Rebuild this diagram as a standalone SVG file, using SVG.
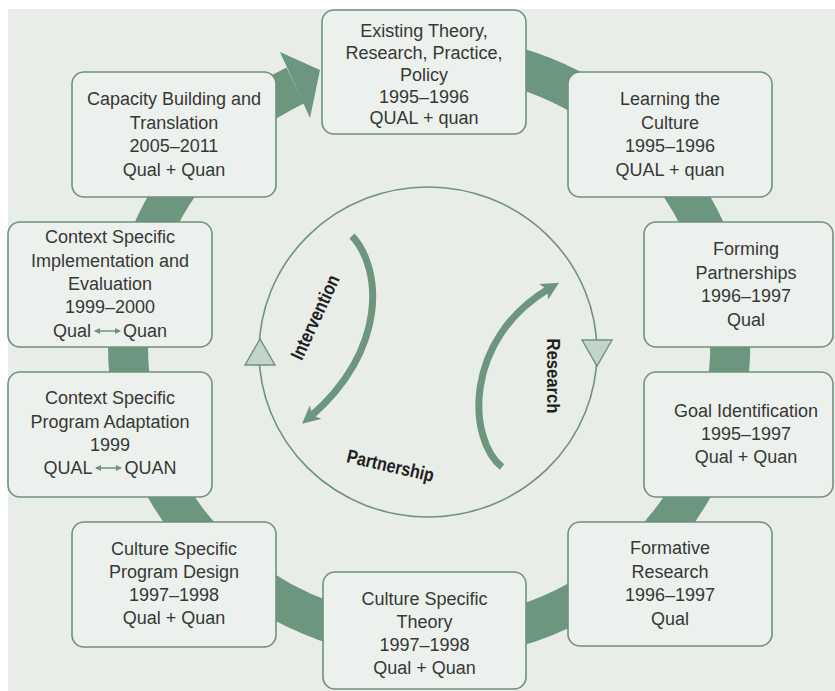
<svg xmlns="http://www.w3.org/2000/svg" width="835" height="691" viewBox="0 0 835 691">
<defs>
<style>
.bg{fill:#e8ede8}
.box{fill:#edf1ed;stroke:#6f917d;stroke-width:1.6}
.t{font-family:"Liberation Sans",Arial,sans-serif;font-size:18px;fill:#363836;text-anchor:middle}
.ts{font-family:"Liberation Sans",Arial,sans-serif;font-size:18px;fill:#363836}
.lbl{font-family:"Liberation Sans",Arial,sans-serif;font-size:19px;font-weight:bold;fill:#1f211f;text-anchor:middle}
.band{fill:none;stroke:#6c967e;stroke-width:40}
.inner{fill:none;stroke:#6f917d;stroke-width:1.6}
.tri{fill:#c2d5c8;stroke:#6f917d;stroke-width:1.4}
.cur{fill:none;stroke:#6c967e;stroke-width:7}
.bi{fill:none;stroke:#6c967e;stroke-width:1.5}
</style>
<marker id="ah" markerUnits="userSpaceOnUse" markerWidth="18" markerHeight="18" viewBox="0 0 12 12" refX="5" refY="6" orient="auto">
<path d="M0,0 L12,6 L0,12 L3,6 z" fill="#6c967e"/>
</marker>
<marker id="sm" markerUnits="userSpaceOnUse" markerWidth="6" markerHeight="6" viewBox="0 0 6 6" refX="5" refY="3" orient="auto-start-reverse">
<path d="M0,0 L6,3 L0,6 z" fill="#6c967e"/>
</marker>
</defs>
<rect x="0" y="0" width="835" height="691" fill="#ffffff"/>
<rect class="bg" x="8" y="9" width="827" height="682"/>

<g id="connectors">
<path class="band" d="M 481.3 59.4 A 301 292 0 1 1 295.2 85.5"/>
<polygon points="280,52 320,70 310,118" fill="#6c967e"/>
</g>

<g id="cycle">
<ellipse class="inner" cx="428" cy="352" rx="169" ry="165"/>
<polygon class="tri" points="260,339 245,365 275,365"/>
<polygon class="tri" points="582,340 612,340 597,366"/>
<path class="cur" d="M 352 236 C 382 268, 388 350, 310 417" marker-end="url(#ah)"/>
<path class="cur" d="M 502 467 C 468 440, 462 340, 550 288" marker-end="url(#ah)"/>
<text class="lbl" x="321" y="320" transform="rotate(-65 321 320)" textLength="91" lengthAdjust="spacingAndGlyphs">Intervention</text>
<text class="lbl" x="547" y="376" transform="rotate(90 547 376)" textLength="75" lengthAdjust="spacingAndGlyphs">Research</text>
<text class="lbl" x="389" y="472" transform="rotate(13 389 472)" textLength="89" lengthAdjust="spacingAndGlyphs">Partnership</text>
</g>

<g id="existing">
<rect class="box" x="322" y="10" width="204" height="124" rx="12"/>
<text class="t" x="424" y="37">Existing Theory,</text>
<text class="t" x="424" y="59">Research, Practice,</text>
<text class="t" x="424" y="81">Policy</text>
<text class="t" x="424" y="102.5">1995–1996</text>
<text class="t" x="424" y="124">QUAL + quan</text>
</g>

<g id="learning">
<rect class="box" x="568" y="72" width="204" height="125" rx="12"/>
<text class="t" x="670" y="105">Learning the</text>
<text class="t" x="670" y="128.5">Culture</text>
<text class="t" x="670" y="152">1995–1996</text>
<text class="t" x="670" y="176">QUAL + quan</text>
</g>

<g id="forming">
<rect class="box" x="644" y="222" width="189" height="125" rx="12"/>
<text class="t" x="746" y="255">Forming</text>
<text class="t" x="746" y="278.5">Partnerships</text>
<text class="t" x="746" y="302">1996–1997</text>
<text class="t" x="746" y="325.5">Qual</text>
</g>

<g id="goal">
<rect class="box" x="644" y="372" width="189" height="125" rx="12"/>
<text class="t" x="746" y="417">Goal Identification</text>
<text class="t" x="746" y="440">1995–1997</text>
<text class="t" x="746" y="463">Qual + Quan</text>
</g>

<g id="formative">
<rect class="box" x="568" y="522" width="204" height="124" rx="12"/>
<text class="t" x="670" y="554">Formative</text>
<text class="t" x="670" y="577.5">Research</text>
<text class="t" x="670" y="601">1996–1997</text>
<text class="t" x="670" y="624.5">Qual</text>
</g>

<g id="theory">
<rect class="box" x="323" y="572" width="203" height="117" rx="12"/>
<text class="t" x="424.5" y="605">Culture Specific</text>
<text class="t" x="424.5" y="628">Theory</text>
<text class="t" x="424.5" y="651">1997–1998</text>
<text class="t" x="424.5" y="674">Qual + Quan</text>
</g>

<g id="design">
<rect class="box" x="72" y="522" width="204" height="125" rx="12"/>
<text class="t" x="174" y="555">Culture Specific</text>
<text class="t" x="174" y="578">Program Design</text>
<text class="t" x="174" y="601">1997–1998</text>
<text class="t" x="174" y="624">Qual + Quan</text>
</g>

<g id="adaptation">
<rect class="box" x="8" y="372" width="204" height="125" rx="12"/>
<text class="t" x="110" y="404">Context Specific</text>
<text class="t" x="110" y="428">Program Adaptation</text>
<text class="t" x="110" y="451">1999</text>
<text class="ts" x="92.5" y="474" text-anchor="end">QUAL</text>
<line class="bi" x1="96" y1="468" x2="121" y2="468" marker-start="url(#sm)" marker-end="url(#sm)"/>
<text class="ts" x="124.5" y="474">QUAN</text>
</g>

<g id="implementation">
<rect class="box" x="8" y="222" width="204" height="125" rx="12"/>
<text class="t" x="110" y="243">Context Specific</text>
<text class="t" x="110" y="267">Implementation and</text>
<text class="t" x="110" y="290">Evaluation</text>
<text class="t" x="110" y="313">1999–2000</text>
<text class="ts" x="91" y="337" text-anchor="end">Qual</text>
<line class="bi" x1="95" y1="331" x2="120" y2="331" marker-start="url(#sm)" marker-end="url(#sm)"/>
<text class="ts" x="123" y="337">Quan</text>
</g>

<g id="capacity">
<rect class="box" x="72" y="72" width="204" height="125" rx="12"/>
<text class="t" x="174" y="105">Capacity Building and</text>
<text class="t" x="174" y="128.5">Translation</text>
<text class="t" x="174" y="152">2005–2011</text>
<text class="t" x="174" y="176">Qual + Quan</text>
</g>
</svg>
